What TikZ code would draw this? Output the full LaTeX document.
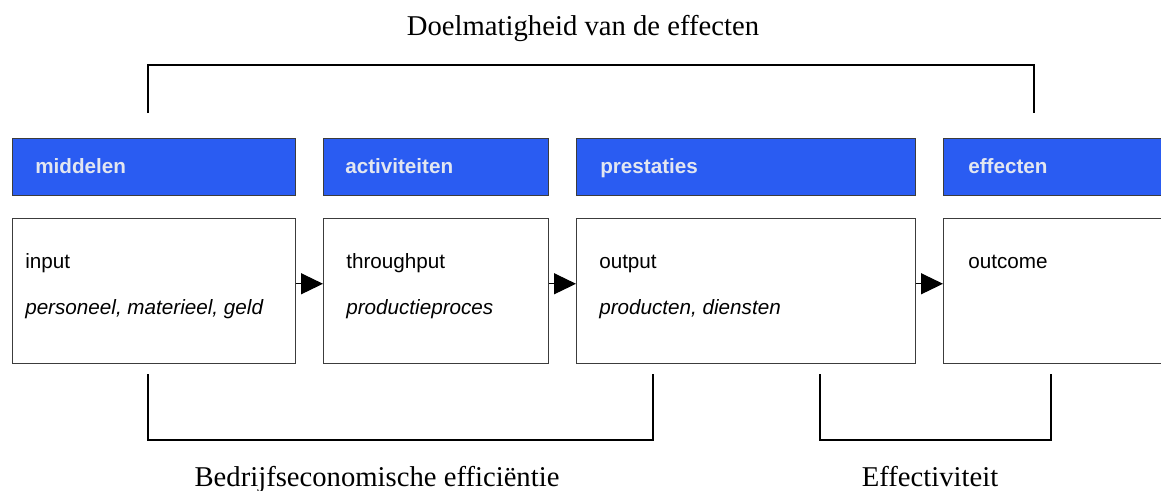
\documentclass[tikz,border=0pt]{standalone}
\usepackage{fontspec}
\setmainfont{Liberation Serif}
\setsansfont{Liberation Sans}
\usetikzlibrary{positioning, calc, arrows.meta}

\definecolor{headblue}{RGB}{42,92,242}
\definecolor{headtext}{RGB}{226,230,240}
\definecolor{boxline}{RGB}{60,60,60}

\begin{document}
\begin{tikzpicture}[x=0.75pt, y=-0.75pt,
    head/.style={draw=boxline, line width=0.9pt, fill=headblue, anchor=north west,
      minimum height=42.75pt, inner sep=0pt},
    body/.style={draw=boxline, line width=0.9pt, fill=white, anchor=north west,
      minimum height=108.75pt, inner sep=0pt},
    headlbl/.style={anchor=base west, inner sep=0pt, text=headtext,
      font=\sffamily\bfseries\fontsize{15.5}{18}\selectfont},
    bodylbl/.style={anchor=base west, inner sep=0pt, font=\sffamily\fontsize{15.5}{18}\selectfont},
    note/.style={anchor=base, inner sep=0pt, font=\fontsize{21.5}{26}\selectfont},
    brak/.style={line width=1.3pt},
    flow/.style={line width=0.9pt, -{Triangle[length=16.5pt, width=15.75pt]}}]
    \useasboundingbox (0,0) rectangle (1161,490);

    % Blue headers
    \node[head, minimum width=212.25pt] (h1) at (12,138) {};
    \node[head, minimum width=168.75pt] (h2) at (323,138) {};
    \node[head, minimum width=254.25pt] (h3) at (576,138) {};
    \node[head, minimum width=180pt]    (h4) at (943,138) {};

    \node[headlbl] at ([xshift=17.25pt, yshift=17pt]h1.south west) {middelen};
    \node[headlbl] at ([xshift=16.5pt, yshift=17pt]h2.south west) {activiteiten};
    \node[headlbl] at ([xshift=18pt, yshift=17pt]h3.south west) {prestaties};
    \node[headlbl] at ([xshift=18.75pt, yshift=17pt]h4.south west) {effecten};

    % Content boxes
    \node[body, minimum width=212.25pt] (b1) at (12,218) {};
    \node[body, minimum width=168.75pt] (b2) at (323,218) {};
    \node[body, minimum width=254.25pt] (b3) at (576,218) {};
    \node[body, minimum width=180pt]    (b4) at (943,218) {};

    \node[bodylbl] at ([xshift=9.75pt, yshift=-37.5pt]b1.north west) {input};
    \node[bodylbl] at ([xshift=9.75pt, yshift=-72pt]b1.north west) {\itshape personeel, materieel, geld};
    \node[bodylbl] at ([xshift=17.25pt, yshift=-37.5pt]b2.north west) {throughput};
    \node[bodylbl] at ([xshift=17.25pt, yshift=-72pt]b2.north west) {\itshape productieproces};
    \node[bodylbl] at ([xshift=17.25pt, yshift=-37.5pt]b3.north west) {output};
    \node[bodylbl] at ([xshift=17.25pt, yshift=-72pt]b3.north west) {\itshape producten, diensten};
    \node[bodylbl] at ([xshift=18.75pt, yshift=-37.5pt]b4.north west) {outcome};

    % Flow between the boxes
    \draw[flow] ([yshift=5.5pt]b1.east) -- ([yshift=5.5pt]b2.west);
    \draw[flow] ([yshift=5.5pt]b2.east) -- ([yshift=5.5pt]b3.west);
    \draw[flow] ([yshift=5.5pt]b3.east) -- ([yshift=5.5pt]b4.west);

    % Brackets and their labels
    \draw[brak] (148,113) |- (1034,65) -- (1034,113);
    \draw[brak] (148,374) |- (653,440) -- (653,374);
    \draw[brak] (820,374) |- (1051,440) -- (1051,374);

    \node[note] (doel) at (583,35) {Doelmatigheid van de effecten};
    \node[note] (eff) at (377,486) {Bedrijfseconomische efficiëntie};
    \node[note] (effect) at (930,486) {Effectiviteit};
\end{tikzpicture}
\end{document}
